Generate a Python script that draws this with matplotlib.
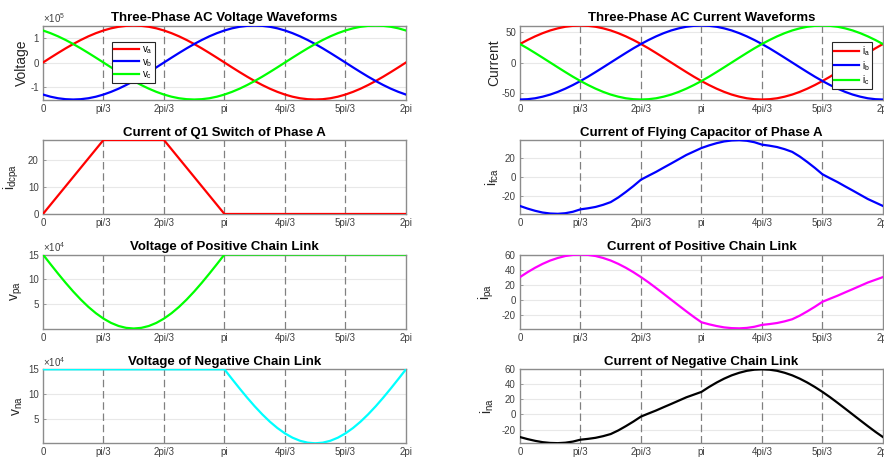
import numpy as np
import matplotlib
matplotlib.use("Agg")
import matplotlib.pyplot as plt
from matplotlib.ticker import FuncFormatter

plt.rcParams['font.family'] = ['Liberation Sans', 'DejaVu Sans']
plt.rcParams['mathtext.default'] = 'regular'
plt.rcParams['axes.unicode_minus'] = False

# sample angles (deg), every 7.5 degrees over one period
theta_deg = np.arange(0, 360.1, 7.5)

va = [0, 19600, 38800, 57400, 75000, 91300, 106100, 119000, 129900, 138600, 144900, 148700, 150000,
      148700, 144900, 138600, 129900, 119000, 106100, 91300, 75000, 57400, 38800, 19600, 0,
      -19600, -38800, -57400, -75000, -91300, -106100, -119000, -129900, -138600, -144900, -148700, -150000,
      -148700, -144900, -138600, -129900, -119000, -106100, -91300, -75000, -57400, -38800, -19600, 0]
vb = [-129900, -138600, -144900, -148700, -150000, -148700, -144900, -138600, -129900, -119000, -106100,
      -91300, -75000, -57400, -38800, -19600, 0, 19600, 38800, 57400, 75000, 91300, 106100, 119000, 129900,
      138600, 144900, 148700, 150000, 148700, 144900, 138600, 129900, 119000, 106100, 91300, 75000, 57400,
      38800, 19600, 0, -19600, -38800, -57400, -75000, -91300, -106100, -119000, -129900]
vc = [129900, 119000, 106100, 91300, 75000, 57400, 38800, 19600, 0, -19600, -38800, -57400, -75000,
      -91300, -106100, -119000, -129900, -138600, -144900, -148700, -150000, -148700, -144900, -138600,
      -129900, -119000, -106100, -91300, -75000, -57400, -38800, -19600, 0, 19600, 38800, 57400, 75000,
      91300, 106100, 119000, 129900, 138600, 144900, 148700, 150000, 148700, 144900, 138600, 129900]

ia = [30, 36.5, 42.4, 47.6, 52, 55.4, 58, 59.5, 60, 59.5, 58, 55.4, 52, 47.6, 42.4, 36.5, 30, 23, 15.5,
      7.8, 0, -7.8, -15.5, -23, -30, -36.5, -42.4, -47.6, -52, -55.4, -58, -59.5, -60, -59.5, -58, -55.4,
      -52, -47.6, -42.4, -36.5, -30, -23, -15.5, -7.8, 0, 7.8, 15.5, 23, 30]
ib = [-60, -59.5, -58, -55.4, -52, -47.6, -42.4, -36.5, -30, -23, -15.5, -7.8, 0, 7.8, 15.5, 23, 30,
      36.5, 42.4, 47.6, 52, 55.4, 58, 59.5, 60, 59.5, 58, 55.4, 52, 47.6, 42.4, 36.5, 30, 23, 15.5, 7.8,
      0, -7.8, -15.5, -23, -30, -36.5, -42.4, -47.6, -52, -55.4, -58, -59.5, -60]
ic = [30, 23, 15.5, 7.8, 0, -7.8, -15.5, -23, -30, -36.5, -42.4, -47.6, -52, -55.4, -58, -59.5, -60,
      -59.5, -58, -55.4, -52, -47.6, -42.4, -36.5, -30, -23, -15.5, -7.8, 0, 7.8, 15.5, 23, 30, 36.5,
      42.4, 47.6, 52, 55.4, 58, 59.5, 60, 59.5, 58, 55.4, 52, 47.6, 42.4, 36.5, 30]

# Q1 switch current: corner points only
idc_deg = [0, 60, 120, 180, 360]
idcpa = [0, 27.4, 27.4, 0, 0]

ifca = [-30, -32.7, -35, -36.8, -37.8, -38.1, -37.5, -36, -33.5, -32.4, -31, -28.8, -26, -21.2, -15.5,
        -9.4, -2.8, 1.3, 5.3, 9.7, 14, 18.4, 22.8, 26.4, 30,
        32.7, 35, 36.8, 37.8, 38.1, 37.5, 36, 33.5, 32.4, 31, 28.8, 26, 21.2, 15.5, 9.4, 2.8, -1.3, -5.3,
        -9.7, -14, -18.4, -22.8, -26.4, -30]

vpa = [150000, 130400, 111200, 92600, 75000, 58700, 43900, 31000, 20100, 11400, 5100, 1300, 0,
       1300, 5100, 11400, 20100, 31000, 43900, 58700, 75000, 92600, 111200, 130400, 150000,
       150000, 150000, 150000, 150000, 150000, 150000, 150000, 150000, 150000, 150000, 150000, 150000,
       150000, 150000, 150000, 150000, 150000, 150000, 150000, 150000, 150000, 150000, 150000, 150000]
vna = [150000, 150000, 150000, 150000, 150000, 150000, 150000, 150000, 150000, 150000, 150000, 150000,
       150000, 150000, 150000, 150000, 150000, 150000, 150000, 150000, 150000, 150000, 150000, 150000,
       150000, 130400, 111200, 92600, 75000, 58700, 43900, 31000, 20100, 11400, 5100, 1300, 0,
       1300, 5100, 11400, 20100, 31000, 43900, 58700, 75000, 92600, 111200, 130400, 150000]

ipa = [30, 36.5, 42.4, 47.6, 52, 55.4, 58, 59.5, 60, 59.5, 58, 55.4, 52, 47.6, 42.4, 36.5, 30, 23, 15.5,
       7.8, 0, -7.8, -15.5, -23, -30,
       -32.7, -35, -36.8, -37.8, -38.1, -37.5, -36, -33.5, -32.4, -31, -28.8, -26, -21.2, -15.5, -9.4,
       -2.8, 1.3, 5.3, 9.7, 14, 18.4, 22.8, 26.4, 30]
ina = [-30, -32.7, -35, -36.8, -37.8, -38.1, -37.5, -36, -33.5, -32.4, -31, -28.8, -26, -21.2, -15.5,
       -9.4, -2.8, 1.3, 5.3, 9.7, 14, 18.4, 22.8, 26.4, 30,
       36.5, 42.4, 47.6, 52, 55.4, 58, 59.5, 60, 59.5, 58, 55.4, 52, 47.6, 42.4, 36.5, 30, 23, 15.5, 7.8,
       0, -7.8, -15.5, -23, -30]

xtick_lab = ['0', 'pi/3', '2pi/3', 'pi', '4pi/3', '5pi/3', '2pi']

x = np.deg2rad(theta_deg)
xd = np.deg2rad(idc_deg)

fig = plt.figure(figsize=(8.84, 4.59), dpi=100)

col_x = [0.0486, 0.5882]
row_y = [0.7832, 0.5338, 0.2843, 0.0342]
w, h = 0.4106, 0.1612

tick_c = '#404040'
box_c = '#8c8c8c'


def setup(ax, title, ylab, ylim, yticks, labx, power=None):
    ax.set_xlim(0, 2*np.pi)
    ax.set_ylim(*ylim)
    ax.set_xticks(np.arange(7)*np.pi/3)
    ax.set_xticklabels(xtick_lab)
    ax.set_yticks(yticks)
    ax.tick_params(direction='in', length=2.5, width=0.6, labelsize=7, colors=box_c,
                   labelcolor=tick_c, pad=3)
    for sp in ax.spines.values():
        sp.set_color(box_c)
        sp.set_linewidth(1.0)
    ax.grid(axis='y', color='#e8e8e8', linewidth=0.8)
    ax.set_axisbelow(True)
    for k in range(1, 6):
        ax.axvline(k*np.pi/3, color='#808080', linestyle=(0, (6, 3)), linewidth=0.9, zorder=1)
    ax.set_title(title, fontsize=9.5, fontweight='bold', pad=3)
    ax.set_ylabel(ylab, fontsize=10, color='#262626')
    ax.yaxis.set_label_coords(labx, 0.5)
    if power is not None:
        ax.yaxis.set_major_formatter(FuncFormatter(lambda v, p: '%g' % (v / 10**power)))
        ax.text(0.0, 1.01, r'$\times10^{%d}$' % power, transform=ax.transAxes,
                fontsize=7, color=tick_c, ha='left', va='bottom')


def legend(ax, anchor, loc):
    leg = ax.legend(loc=loc, bbox_to_anchor=anchor, fontsize=7, handlelength=2.6,
                    handletextpad=0.3, borderpad=0.2, labelspacing=0.1,
                    fancybox=False, framealpha=1, borderaxespad=0)
    leg.get_frame().set_edgecolor('#262626')
    leg.get_frame().set_linewidth(0.8)


lw = 1.6

# Three-phase voltages
ax = fig.add_axes([col_x[0], row_y[0], w, h])
ax.plot(x, va, color='#ff0000', lw=lw, label='v$_a$', zorder=3)
ax.plot(x, vb, color='#0000ff', lw=lw, label='v$_b$', zorder=3)
ax.plot(x, vc, color='#00ff00', lw=lw, label='v$_c$', zorder=3)
setup(ax, 'Three-Phase AC Voltage Waveforms', 'Voltage', (-150000, 150000), [-100000, 0, 100000],
      -0.04, power=5)
legend(ax, (0.19, 0.776), 'upper left')

# Three-phase currents
ax = fig.add_axes([col_x[1], row_y[0], w, h])
ax.plot(x, ia, color='#ff0000', lw=lw, label='i$_a$', zorder=3)
ax.plot(x, ib, color='#0000ff', lw=lw, label='i$_b$', zorder=3)
ax.plot(x, ic, color='#00ff00', lw=lw, label='i$_c$', zorder=3)
setup(ax, 'Three-Phase AC Current Waveforms', 'Current', (-60, 60), [-50, 0, 50], -0.052)
legend(ax, (0.97, 0.776), 'upper right')

# Q1 switch current
ax = fig.add_axes([col_x[0], row_y[1], w, h])
ax.plot(xd, idcpa, color='#ff0000', lw=lw, zorder=3)
setup(ax, 'Current of Q1 Switch of Phase A', 'i$_{dcpa}$', (0, 27.4), [0, 10, 20], -0.06)

# Flying capacitor current
ax = fig.add_axes([col_x[1], row_y[1], w, h])
ax.plot(x, ifca, color='#0000ff', lw=lw, zorder=3)
setup(ax, 'Current of Flying Capacitor of Phase A', 'i$_{fca}$', (-38.3, 38.3), [-20, 0, 20], -0.052)

# Positive chain link voltage
ax = fig.add_axes([col_x[0], row_y[2], w, h])
ax.plot(x, vpa, color='#00ff00', lw=lw, zorder=3)
setup(ax, 'Voltage of Positive Chain Link', 'v$_{pa}$', (0, 150000), [50000, 100000, 150000],
      -0.05, power=4)

# Positive chain link current
ax = fig.add_axes([col_x[1], row_y[2], w, h])
ax.plot(x, ipa, color='#ff00ff', lw=lw, zorder=3)
setup(ax, 'Current of Positive Chain Link', 'i$_{pa}$', (-38.3, 60), [-20, 0, 20, 40, 60], -0.067)

# Negative chain link voltage
ax = fig.add_axes([col_x[0], row_y[3], w, h])
ax.plot(x, vna, color='#00ffff', lw=lw, zorder=3)
setup(ax, 'Voltage of Negative Chain Link', 'v$_{na}$', (0, 150000), [50000, 100000, 150000],
      -0.05, power=4)

# Negative chain link current
ax = fig.add_axes([col_x[1], row_y[3], w, h])
ax.plot(x, ina, color='#000000', lw=lw, zorder=3)
setup(ax, 'Current of Negative Chain Link', 'i$_{na}$', (-38.3, 60), [-20, 0, 20, 40, 60], -0.067)

fig.savefig('out.png', dpi=100)
